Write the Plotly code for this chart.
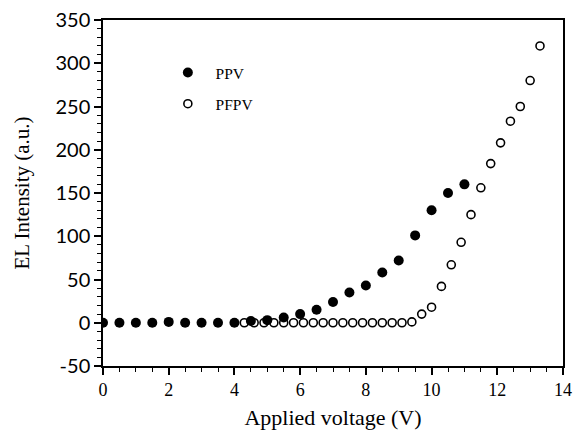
import plotly.graph_objects as go

ppv_x = [0, 0.5, 1, 1.5, 2, 2.5, 3, 3.5, 4, 4.5, 5, 5.5, 6, 6.5, 7, 7.5, 8, 8.5, 9, 9.5, 10, 10.5, 11]
ppv_y = [0, 0, 0, 0, 1, 0, 0, 0, 0, 2, 3, 6, 10, 15, 24, 35, 43, 58, 72, 101, 130, 150, 160]

pfpv_x = [4.3, 4.6, 4.9, 5.2, 5.5, 5.8, 6.1, 6.4, 6.7, 7.0, 7.3, 7.6, 7.9, 8.2, 8.5, 8.8, 9.1,
          9.4, 9.7, 10.0, 10.3, 10.6, 10.9, 11.2, 11.5, 11.8, 12.1, 12.4, 12.7, 13.0, 13.3]
pfpv_y = [0, 0, 0, 0, 0, 0, 0, 0, 0, 0, 0, 0, 0, 0, 0, 0, 0,
          1, 10, 18, 42, 67, 93, 125, 156, 184, 208, 233, 250, 280, 320]

x_ticks = [0, 2, 4, 6, 8, 10, 12, 14]
x_ticktext = ["0", "2", "4", "6", "8", "10", "12", "14"]
y_ticks = [-50, 0, 50, 100, 150, 200, 250, 300, 350]
y_ticktext = ["-50", "0", "50", "100", "150", "200", "250", "300", "350"]

serif = "Liberation Serif, DejaVu Serif, serif"
sans = "Lato, DejaVu Sans, sans-serif"
pad = "\u00a0\u00a0"

fig = go.Figure()
fig.add_trace(go.Scatter(x=ppv_x, y=ppv_y, mode="markers", name=pad + "PPV", legendgroup="a",
                         marker=dict(symbol="circle", size=10, color="black")))
fig.add_trace(go.Scatter(x=pfpv_x, y=pfpv_y, mode="markers", name=pad + "PFPV", legendgroup="b",
                         marker=dict(symbol="circle-open", size=8, color="black",
                                     line=dict(width=1.6, color="black"))))

fig.update_layout(
    width=576, height=431,
    margin=dict(l=103, r=13, t=20, b=65),
    paper_bgcolor="white", plot_bgcolor="white",
    showlegend=True,
    legend=dict(x=0.141, y=0.896, xanchor="left", yanchor="top",
                font=dict(family=serif, size=15.5, color="black"),
                bgcolor="rgba(0,0,0,0)", traceorder="grouped", tracegroupgap=8),
    xaxis=dict(range=[0, 14], tickvals=x_ticks, ticktext=x_ticktext, automargin=False,
               showgrid=False, zeroline=False, showline=True, linecolor="black", linewidth=1.5,
               mirror=True, ticks="outside", ticklen=7, tickwidth=1.5, tickcolor="black",
               minor=dict(dtick=0.5, ticks="outside", ticklen=4, tickwidth=1.2, tickcolor="black"),
               tickfont=dict(family=serif, size=18, color="black"),
               title=dict(text="Applied voltage (V)", font=dict(family=serif, size=22, color="black"),
                          standoff=10)),
    yaxis=dict(range=[-50, 350], tickvals=y_ticks, ticktext=y_ticktext, automargin=False,
               showgrid=False, zeroline=False, showline=True, linecolor="black", linewidth=1.5,
               mirror=True, ticks="outside", ticklen=7, tickwidth=1.5, tickcolor="black",
               minor=dict(dtick=10, ticks="outside", ticklen=4, tickwidth=1.2, tickcolor="black"),
               tickfont=dict(family=sans, size=20, color="black"),
               title=dict(text="EL Intensity (a.u.)", font=dict(family=serif, size=21, color="black"),
                          standoff=20)),
)

fig.write_html("out.html", config={"displayModeBar": False},
               post_script="document.body.style.margin='0';document.body.style.padding='0';")
